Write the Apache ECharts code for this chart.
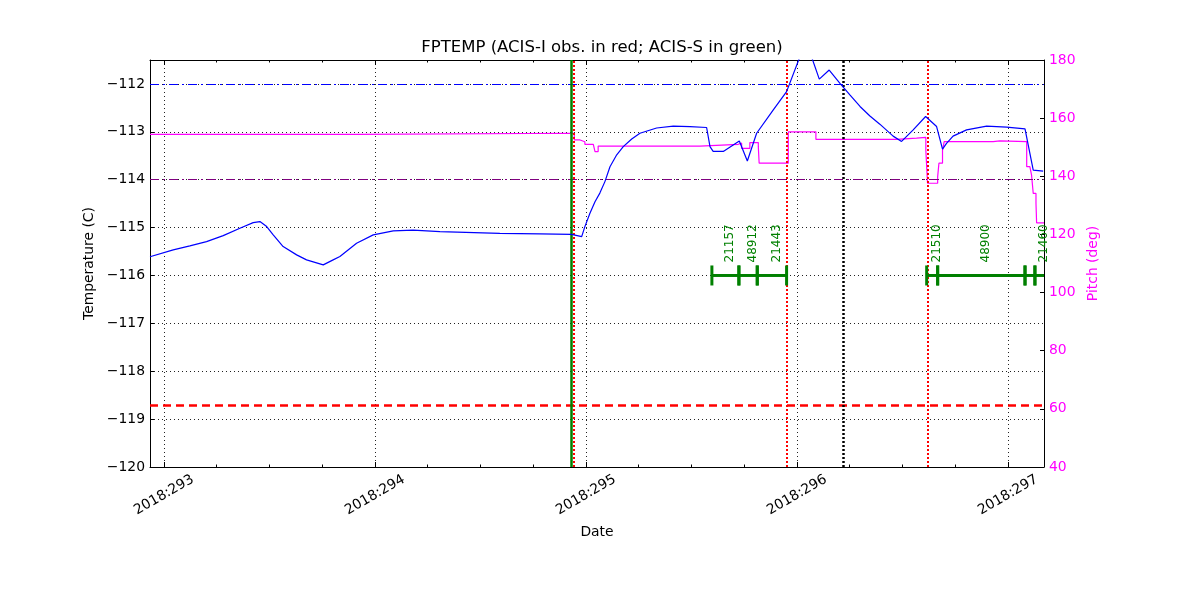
<!DOCTYPE html>
<html><head><meta charset="utf-8">
<script src="https://cdn.jsdelivr.net/npm/echarts@6/dist/echarts.min.js"></script>
<style>html,body{margin:0;padding:0;background:#fff}#c{width:1200px;height:600px}</style>
</head><body><div id="c"></div>
<script>
// ---- data (day of year 2018) ----
const tempDays = [292.934,292.942,293.044,293.123,293.202,293.281,293.360,293.423,293.455,293.487,293.518,293.565,293.629,293.676,293.755,293.802,293.834,293.913,293.992,294.087,294.181,294.308,294.592,294.782,294.932,294.980,294.995,295.019,295.043,295.066,295.090,295.114,295.146,295.177,295.217,295.256,295.335,295.414,295.493,295.572,295.588,295.603,295.651,295.727,295.765,295.809,295.888,295.951,295.959,296.043,296.106,296.153,296.204,296.251,296.299,296.346,296.393,296.456,296.496,296.551,296.610,296.662,296.690,296.709,296.740,296.804,296.899,296.994,297.081,297.120,297.167];
const tempVals = [-115.61,-115.605,-115.466,-115.382,-115.292,-115.167,-115.013,-114.896,-114.875,-114.979,-115.152,-115.397,-115.570,-115.674,-115.779,-115.674,-115.605,-115.326,-115.152,-115.069,-115.054,-115.084,-115.12,-115.13,-115.14,-115.19,-114.98,-114.70,-114.46,-114.28,-114.04,-113.73,-113.48,-113.31,-113.15,-113.03,-112.92,-112.88,-112.89,-112.91,-113.31,-113.41,-113.41,-113.19,-113.61,-113.03,-112.54,-112.16,-112.19,-111.10,-111.90,-111.71,-111.99,-112.23,-112.47,-112.67,-112.84,-113.09,-113.20,-112.96,-112.68,-112.89,-113.36,-113.24,-113.09,-112.96,-112.88,-112.90,-112.94,-113.80,-113.82];
const pitchDays = [292.934,293.916,294.945,294.972,294.995,295.035,295.043,295.058,295.540,295.722,295.738,295.777,295.817,295.821,295.959,296.090,296.472,296.567,296.611,296.619,296.667,296.673,296.690,296.698,296.930,296.962,297.089,297.104,297.112,297.120,297.133,297.136,297.171];
const pitchVals = [154.45,154.8,152.5,151.9,151.0,150.4,148.5,150.4,151.0,151.4,149.6,151.6,150.2,144.5,155.3,152.7,153.1,153.4,149.0,137.6,139.9,144.5,149.0,151.9,152.2,151.9,143.3,142.7,140.4,134.1,130.7,124.0,124.0];
const obsStart = [295.597,295.725,295.812,296.615,296.667,297.081,297.128];
const obsStop  = [295.725,295.812,295.951,296.667,297.081,297.128,297.25];
const obsIds   = ['21157','48912','21443','21510','48900','','21460'];
const obsLevel = -116;
const acisSDays = [294.934];          // green
const acisIDays = [294.944,295.951,296.615]; // red dotted
const otherDays = [296.224];          // black dotted
const limitBlue = -112, limitPurple = -114, limitRed = -118.72;
const dayTicks = [293,294,295,296,297];
const dayMinorTicks = [293.25,293.5,293.75,294.25,294.5,294.75,295.25,295.5,295.75,296.25,296.5,296.75];
const xMin = 292.934, xMax = 297.171;
const tempMin = -120, tempMax = -111.5, tempStep = 1;
const pitchMin = 40, pitchMax = 180, pitchStep = 20;

const FONT = 'DejaVu Sans';
const FS = 13.9;
const chart = echarts.init(document.getElementById('c'), null, {renderer: 'canvas'});

function pts(xs, ys){ return xs.map((x,i)=>[x, ys[i]]); }
const obsData = obsStart.map((s,i)=>[s, obsStop[i], obsLevel, obsIds[i]]);
const gridStyle = {color:'#222', width:1, type:[1,3]};

const xBase = {type:'value', min:xMin, max:xMax, gridIndex:0};
const option = {
  animation:false,
  backgroundColor:'#fff',
  title:{text:'FPTEMP (ACIS-I obs. in red; ACIS-S in green)', left:597, top:34, textAlign:'center',
    textStyle:{fontFamily:FONT, fontSize:16.5, fontWeight:'normal', color:'#000'}},
  grid:{left:150, right:156, top:60, bottom:133, containLabel:false},
  xAxis:[
    Object.assign({}, xBase, {position:'bottom', name:'Date', nameLocation:'middle', nameGap:58,
      nameTextStyle:{fontFamily:FONT, fontSize:FS, color:'#000'},
      axisLine:{show:true, lineStyle:{color:'#000', width:1}},
      axisTick:{show:true, inside:true, length:5, customValues:dayTicks, lineStyle:{color:'#000'}},
      axisLabel:{show:true, customValues:dayTicks, rotate:30, align:'center', verticalAlign:'middle', margin:28,
        fontFamily:FONT, fontSize:FS, color:'#000', formatter:v=>'2018:'+Math.round(v)},
      splitLine:{show:true, lineStyle:gridStyle}}),
    Object.assign({}, xBase, {position:'bottom',
      axisLine:{show:false}, axisTick:{show:true, inside:true, length:2.5, customValues:dayMinorTicks, lineStyle:{color:'#000'}},
      axisLabel:{show:false}, splitLine:{show:false}}),
    Object.assign({}, xBase, {position:'top',
      axisLine:{show:true, lineStyle:{color:'#000', width:1}},
      axisTick:{show:true, inside:true, length:5, customValues:dayTicks, lineStyle:{color:'#000'}},
      axisLabel:{show:false}, splitLine:{show:false}}),
    Object.assign({}, xBase, {position:'top',
      axisLine:{show:false}, axisTick:{show:true, inside:true, length:2.5, customValues:dayMinorTicks, lineStyle:{color:'#000'}},
      axisLabel:{show:false}, splitLine:{show:false}})
  ],
  yAxis:[
    {type:'value', position:'left', min:tempMin, max:tempMax, interval:tempStep,
      name:'Temperature (C)', nameLocation:'middle', nameGap:48,
      nameTextStyle:{fontFamily:FONT, fontSize:FS, color:'#000'},
      axisLine:{show:true, lineStyle:{color:'#000', width:1}},
      axisTick:{show:true, inside:true, length:4, lineStyle:{color:'#000'}},
      axisLabel:{fontFamily:FONT, fontSize:FS, color:'#000', margin:5, showMaxLabel:false,
        formatter:v=>String(v).replace('-', '\u2212')},
      splitLine:{show:true, lineStyle:gridStyle}},
    {type:'value', position:'right', min:pitchMin, max:pitchMax, interval:pitchStep,
      name:'Pitch (deg)', nameLocation:'middle', nameGap:36,
      nameTextStyle:{fontFamily:FONT, fontSize:FS, color:'#ff00ff'},
      axisLine:{show:true, lineStyle:{color:'#000', width:1}},
      axisTick:{show:true, inside:true, length:4, lineStyle:{color:'#000'}},
      axisLabel:{fontFamily:FONT, fontSize:FS, color:'#ff00ff', margin:5},
      splitLine:{show:false}}
  ],
  series:[
    {type:'line', name:'refs', xAxisIndex:0, yAxisIndex:0, data:[], silent:true, z:3,
      markLine:{silent:true, symbol:['none','none'], label:{show:false}, animation:false,
        data:[
          {yAxis:limitBlue, lineStyle:{color:'#0000ff', width:1, type:[9,4,2,4]}},
          {yAxis:limitPurple, lineStyle:{color:'#800080', width:1, type:[9,4,2,4]}},
          {yAxis:limitRed, lineStyle:{color:'#ff0000', width:2.5, type:[8,5]}},
        ].concat(
          acisIDays.map(d=>({xAxis:d, lineStyle:{color:'#ff0000', width:2, type:[2,2]}})),
          otherDays.map(d=>({xAxis:d, lineStyle:{color:'#000000', width:2.5, type:[2,2]}})),
          acisSDays.map(d=>({xAxis:d, lineStyle:{color:'#008000', width:2.5, type:'solid'}}))
        )}},
    {type:'line', name:'pitch', xAxisIndex:0, yAxisIndex:1, data:pts(pitchDays,pitchVals), step:'end',
      showSymbol:false, symbol:'none', clip:true, z:4, lineStyle:{color:'#ff00ff', width:1.2}},
    {type:'line', name:'fptemp', xAxisIndex:0, yAxisIndex:0, data:pts(tempDays,tempVals),
      showSymbol:false, symbol:'none', clip:true, z:5, lineStyle:{color:'#0000ff', width:1.2}},
    {type:'custom', name:'obs', xAxisIndex:0, yAxisIndex:0, data:obsData, clip:true, z:6,
      encode:{x:[0,1], y:2},
      renderItem:function(params, api){
        const p1 = api.coord([api.value(0), api.value(2)]);
        const p2 = api.coord([api.value(1), api.value(2)]);
        const st = {stroke:'#008000', lineWidth:3};
        return {type:'group', children:[
          {type:'line', shape:{x1:p1[0], y1:p1[1], x2:p2[0], y2:p2[1]}, style:st},
          {type:'line', shape:{x1:p1[0], y1:p1[1]-10, x2:p1[0], y2:p1[1]+10}, style:st},
          {type:'line', shape:{x1:p2[0], y1:p2[1]-10, x2:p2[0], y2:p2[1]+10}, style:st}
        ]};
      }},
    {type:'custom', name:'obsLabels', xAxisIndex:0, yAxisIndex:0, data:obsData, clip:false, z:7,
      encode:{x:[0,1], y:2},
      renderItem:function(params, api){
        const id = obsIds[params.dataIndex];
        if (!id) return null;
        const s = api.value(0), e = Math.min(api.value(1), xMax);
        const p = api.coord([(s+e)/2, api.value(2)]);
        return {type:'text', x:p[0]+4.5, y:p[1]-13, rotation:Math.PI/2,
          style:{text:id, fill:'#008000', font:'12px "DejaVu Sans"', textAlign:'left', textVerticalAlign:'middle'}};
      }}
  ]
};
chart.setOption(option);
</script></body></html>
